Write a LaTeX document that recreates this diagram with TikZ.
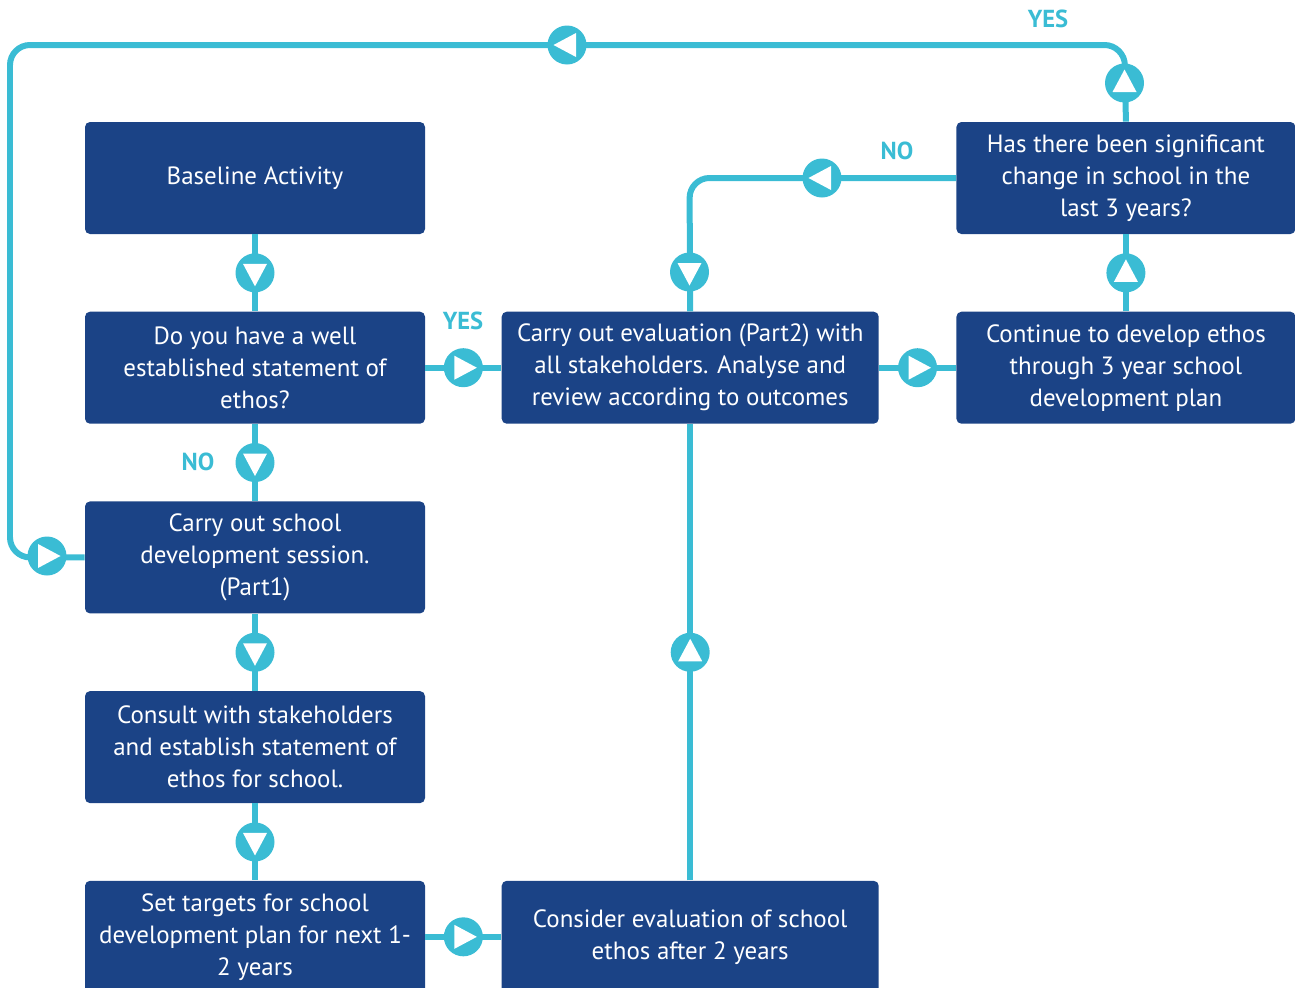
\documentclass[tikz,border=0pt]{standalone}
\usepackage{fontspec}
\setmainfont{PT Sans}
\usetikzlibrary{positioning}
\definecolor{boxblue}{HTML}{1B4386}
\definecolor{flowcyan}{HTML}{3ABCD4}
\tikzset{
  stepbox/.style={draw=none, rectangle, rounded corners=0.1cm, fill=boxblue, text=white,
    minimum width=6.8cm, minimum height=2.24cm, align=center, inner sep=0pt,
    font=\fontsize{14.2}{18.2}\selectfont},
  flow/.style={draw=flowcyan, line width=0.12cm},
  flowdot/.style={circle, fill=flowcyan, minimum size=0.78cm, inner sep=0pt},
  dotR/.style={flowdot, path picture={\fill[white]
      ([shift={(-0.18cm,-0.24cm)}]path picture bounding box.center) --
      ([shift={(0.27cm,0cm)}]path picture bounding box.center) --
      ([shift={(-0.18cm,0.24cm)}]path picture bounding box.center) -- cycle;}},
  dotL/.style={flowdot, path picture={\fill[white]
      ([shift={(0.18cm,-0.24cm)}]path picture bounding box.center) --
      ([shift={(-0.27cm,0cm)}]path picture bounding box.center) --
      ([shift={(0.18cm,0.24cm)}]path picture bounding box.center) -- cycle;}},
  dotU/.style={flowdot, path picture={\fill[white]
      ([shift={(-0.24cm,-0.18cm)}]path picture bounding box.center) --
      ([shift={(0cm,0.27cm)}]path picture bounding box.center) --
      ([shift={(0.24cm,-0.18cm)}]path picture bounding box.center) -- cycle;}},
  dotD/.style={flowdot, path picture={\fill[white]
      ([shift={(-0.24cm,0.18cm)}]path picture bounding box.center) --
      ([shift={(0cm,-0.27cm)}]path picture bounding box.center) --
      ([shift={(0.24cm,0.18cm)}]path picture bounding box.center) -- cycle;}},
  answer/.style={text=flowcyan, font=\fontsize{14}{16}\selectfont\bfseries}
}
\begin{document}
\begin{tikzpicture}
  \useasboundingbox (0,0) rectangle (25.9,-19.74);
  % Nodes
  \node[stepbox] (base) at (5.1,-3.56) {Baseline Activity};
  \node[stepbox, below=1.54cm of base] (ethos) {Do you have a well\\established statement of\\ethos?};
  \node[stepbox, below=1.54cm of ethos] (session) {Carry out school\\development session.\\(Part1)};
  \node[stepbox, below=1.54cm of session] (consult) {Consult with stakeholders\\and establish statement of\\ethos for school.};
  \node[stepbox, below=1.54cm of consult] (targets) {Set targets for school\\development plan for next 1-\\2 years};
  \node[stepbox, minimum width=7.54cm, right=1.52cm of ethos] (evalb) {Carry out evaluation (Part2) with\\all stakeholders. Analyse and\\review according to outcomes};
  \node[stepbox, minimum width=7.54cm, right=1.52cm of targets] (consider) {Consider evaluation of school\\ethos after 2 years};
  \node[stepbox, minimum width=6.78cm, right=1.54cm of evalb] (continue) {Continue to develop ethos\\through 3 year school\\development plan};
  \node[stepbox, minimum width=6.78cm, above=1.54cm of continue] (change) {Has there been significant\\change in school in the\\last 3 years?};
  \coordinate (topright) at (22.49,-0.9);
  \coordinate (topleft) at (0.2,-0.9);
  \coordinate (bend) at (13.79,-3.56);

  % Edges
  \draw[flow] (base) -- node[dotD] (d1) {} (ethos);
  \draw[flow] (ethos) -- node[dotD] (d2) {} (session);
  \draw[flow] (session) -- node[dotD] (d3) {} (consult);
  \draw[flow] (consult) -- node[dotD] (d4) {} (targets);
  \draw[flow] (ethos) -- node[dotR] (d5) {} (evalb);
  \draw[flow] (targets) -- node[dotR] (d6) {} (consider);
  \draw[flow] (consider) -- node[dotU] (d7) {} (evalb);
  \draw[flow] (evalb) -- node[dotR] (d8) {} (continue);
  \draw[flow] (continue) -- node[dotU] (d9) {} (change);
  \draw[flow, rounded corners=0.4cm] (change.west) -- (bend) -- (evalb.north);
  \node[dotL] (d10) at (16.44,-3.56) {};
  \node[dotD] (d11) at (13.79,-5.44) {};
  \draw[flow, rounded corners=0.4cm] (change.north) -- (topright) -- (topleft)
    -- (topleft |- session.west) -- (session.west);
  \node[dotU] (d12) at (22.49,-1.66) {};
  \node[dotL] (d13) at (11.34,-0.9) {};
  \node[dotR] (d14) at (0.94,-11.12) {};

  % Labels
  \node[answer] (yes1) at (9.26,-6.42) {YES};
  \node[answer] (no1) at (3.96,-9.24) {NO};
  \node[answer] (no2) at (17.94,-3.02) {NO};
  \node[answer] (yes2) at (20.96,-0.38) {YES};
\end{tikzpicture}
\end{document}
